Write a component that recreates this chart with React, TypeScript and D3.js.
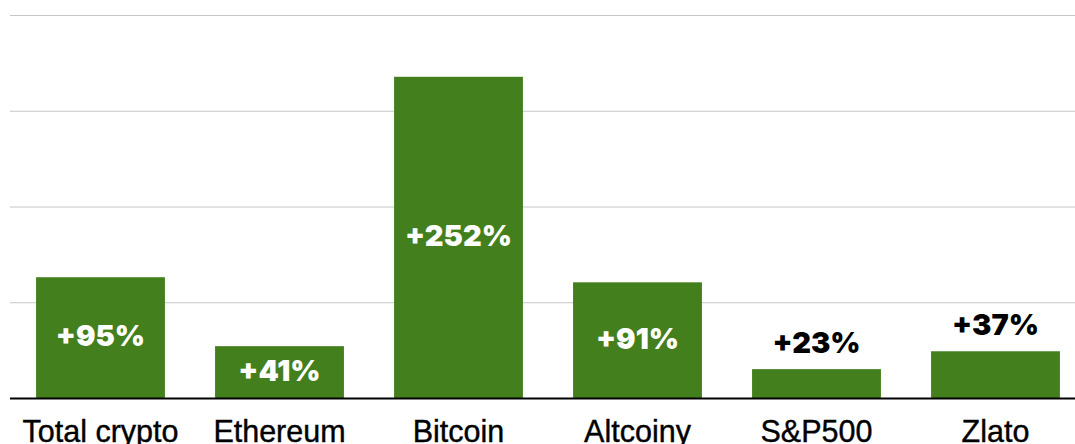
import { useRef, useEffect } from 'react';
import * as d3 from 'd3';

const categories = ['Total crypto', 'Ethereum', 'Bitcoin', 'Altcoiny', 'S&P500', 'Zlato'];
const values = [95, 41, 252, 91, 23, 37];
const gridTicks = [75, 150, 225, 300];

const W = 1075;
const H = 444;

export default function App() {
  const svgRef = useRef<SVGSVGElement>(null);

  useEffect(() => {
    if (!svgRef.current) return;
    const svg = d3.select(svgRef.current);
    svg.selectAll('*').remove();

    const baseY = 398.5;
    const x = d3.scaleBand<string>().domain(categories).range([11, 1085]).paddingInner(0.28).paddingOuter(0.14);
    const y = d3.scaleLinear().domain([0, 300]).range([baseY, 15.5]);
    const green = '#447f1d';

    // gridlines
    svg.append('g').selectAll('line').data(gridTicks).join('line')
      .attr('x1', 10).attr('x2', W)
      .attr('y1', (d) => y(d)).attr('y2', (d) => y(d))
      .attr('stroke', '#c6c6c6').attr('stroke-width', 1.2);

    const data = categories.map((c, i) => ({ c, v: values[i] }));
    const outside = (v: number) => v < 40;

    svg.append('g').selectAll('rect').data(data).join('rect')
      .attr('x', (d) => x(d.c) ?? 0)
      .attr('y', (d) => y(d.v))
      .attr('width', x.bandwidth())
      .attr('height', (d) => baseY - y(d.v))
      .attr('fill', green);

    // baseline
    svg.append('line').attr('x1', 10).attr('x2', W).attr('y1', baseY).attr('y2', baseY)
      .attr('stroke', '#000').attr('stroke-width', 2);

    // value labels
    svg.append('g').selectAll('text').data(data).join('text')
      .attr('x', (d) => (x(d.c) ?? 0) + x.bandwidth() / 2)
      .attr('y', (d) => (outside(d.v) ? y(d.v) - 27 : (y(d.v) + baseY) / 2 - 2))
      .attr('text-anchor', 'middle').attr('dominant-baseline', 'central')
      .attr('font-family', 'Inter, sans-serif').attr('font-weight', 900).attr('font-size', 29)
      .attr('fill', (d) => (outside(d.v) ? '#000' : '#fff'))
      .text((d) => `+${d.v}%`);

    // category labels
    svg.append('g').selectAll('text').data(categories).join('text')
      .attr('x', (d) => (x(d) ?? 0) + x.bandwidth() / 2)
      .attr('y', 442)
      .attr('text-anchor', 'middle')
      .attr('font-family', '"Liberation Sans", Arial, sans-serif').attr('font-size', 30.5)
      .attr('fill', '#000').attr('stroke', '#000').attr('stroke-width', 0.4)
      .text((d) => d);
  }, []);

  return (
    <svg ref={svgRef} width={W} height={H}
      style={{ position: 'absolute', left: 0, top: 0, background: '#fff' }} />
  );
}
